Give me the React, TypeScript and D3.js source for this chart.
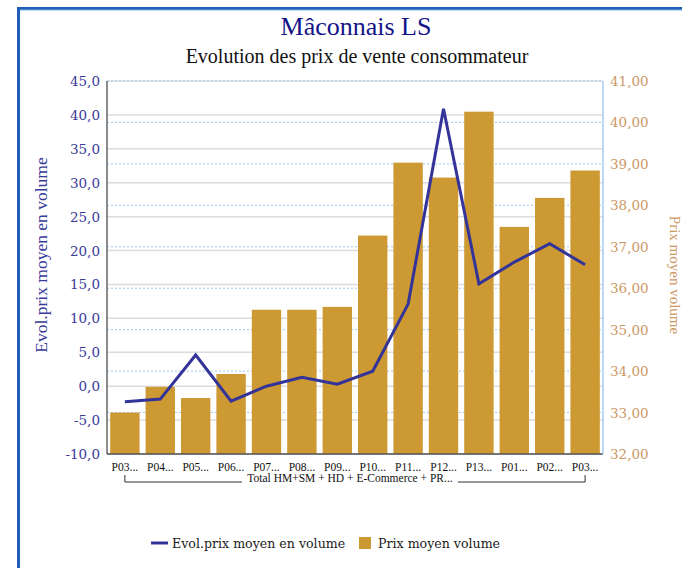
import React from "react";
import * as d3 from "d3";

const categories = ["P03...", "P04...", "P05...", "P06...", "P07...", "P08...", "P09...", "P10...", "P11...", "P12...", "P13...", "P01...", "P02...", "P03..."];
const prixMoyen = [33.0, 33.62, 33.35, 33.93, 35.48, 35.48, 35.55, 37.27, 39.03, 38.67, 40.26, 37.48, 38.18, 38.84];
const evolPrix = [-2.3, -1.9, 4.6, -2.2, 0.0, 1.3, 0.3, 2.2, 12.1, 40.9, 15.1, 18.3, 21.0, 17.9];
const leftTicks = [-10, -5, 0, 5, 10, 15, 20, 25, 30, 35, 40, 45];
const rightTicks = [32, 33, 34, 35, 36, 37, 38, 39, 40, 41];
const groupLabel = "Total HM+SM + HD + E-Commerce + PR...";

const fmt = (t: number, d: number) => t.toFixed(d).replace(".", ",");

export default function App() {
  const W = 682, H = 568;
  const m = { left: 107, right: 603, top: 81, bottom: 454 };
  const x = d3.scaleBand<number>().domain(d3.range(categories.length)).range([m.left, m.right]).paddingInner(0.17).paddingOuter(0.09);
  const yL = d3.scaleLinear().domain([-10, 45]).range([m.bottom, m.top]);
  const yR = d3.scaleLinear().domain([32, 41]).range([m.bottom, m.top]);
  const line = d3.line<number>().x((_, i) => x(i)! + x.bandwidth() / 2).y((d) => yL(d));
  const serif = { fontFamily: "DejaVu Serif, serif" };
  const times = { fontFamily: "Liberation Serif, Times New Roman, serif" };
  const c0 = x(0)! + x.bandwidth() / 2;
  const cN = x(categories.length - 1)! + x.bandwidth() / 2;
  const brY = 482;
  const textMid = 350;
  const textHalf = 100;
  return (
    <svg width={W} height={H} style={{ position: "absolute", left: 0, top: 0, background: "#fff" }}>
      <rect x={18.5} y={8.5} width={W} height={H} fill="none" stroke="#1f5fb5" strokeWidth={3} />
      <line x1={20} y1={10} x2={W} y2={10} stroke="#7fb0e8" strokeWidth={1} />
      <text x={356} y={35} textAnchor="middle" style={times} fontSize={26} fill="#14148a">Mâconnais LS</text>
      <text x={357} y={63} textAnchor="middle" style={times} fontSize={20} fill="#111">Evolution des prix de vente consommateur</text>
      {leftTicks.map((t) => (
        <line key={"gl" + t} x1={m.left} x2={m.right} y1={yL(t)} y2={yL(t)} stroke="#dcdcdc" strokeWidth={1.5} />
      ))}
      {rightTicks.map((t) => (
        <line key={"gr" + t} x1={m.left} x2={m.right} y1={yR(t)} y2={yR(t)} stroke="#9cc8f0" strokeWidth={1} strokeDasharray="2,2" />
      ))}
      {prixMoyen.map((v, i) => (
        <rect key={"b" + i} x={x(i)} y={yR(v)} width={x.bandwidth()} height={yR(32) - yR(v)} fill="#cc9933" />
      ))}
      <path d={line(evolPrix) || ""} fill="none" stroke="#333399" strokeWidth={3} strokeLinejoin="miter" />
      <line x1={m.left} x2={m.left} y1={m.top} y2={m.bottom} stroke="#666" strokeWidth={1.5} />
      <line x1={m.left} x2={m.right} y1={m.bottom} y2={m.bottom} stroke="#555" strokeWidth={1.5} />
      <line x1={m.right} x2={m.right} y1={m.top} y2={m.bottom} stroke="#a8cdf2" strokeWidth={1.5} />
      {leftTicks.map((t) => (
        <text key={"tl" + t} x={100} y={yL(t) + 5} textAnchor="end" style={serif} fontSize={13.5} fill="#3a3a9a">
          {fmt(t, 1)}
        </text>
      ))}
      {rightTicks.map((t) => (
        <text key={"tr" + t} x={610} y={yR(t) + 5} textAnchor="start" style={serif} fontSize={13.5} fill="#cc9966">
          {fmt(t, 2)}
        </text>
      ))}
      {categories.map((c, i) => (
        <text key={"c" + i} x={x(i)! + x.bandwidth() / 2} y={471} textAnchor="middle" style={times} fontSize={11.5} fill="#111">{c}</text>
      ))}
      <path d={`M${c0},${brY - 7}V${brY}H${textMid - textHalf - 8}`} fill="none" stroke="#333" strokeWidth={1} />
      <path d={`M${textMid + textHalf + 8},${brY}H${cN}V${brY - 7}`} fill="none" stroke="#333" strokeWidth={1} />
      <text x={textMid} y={482} textAnchor="middle" style={times} fontSize={11.5} fill="#111">{groupLabel}</text>
      <text transform={`translate(47,255) rotate(-90)`} textAnchor="middle" style={times} fontSize={17.5} fill="#3a3a9a">Evol.prix moyen en volume</text>
      <text transform={`translate(670,275) rotate(90)`} textAnchor="middle" style={times} fontSize={15} fill="#cc9966">Prix moyen volume</text>
      <line x1={151} x2={168} y1={543} y2={543} stroke="#333399" strokeWidth={3} />
      <text x={172} y={548} style={serif} fontSize={12.6} fill="#222">Evol.prix moyen en volume</text>
      <rect x={359} y={537} width={12} height={12} fill="#cc9933" />
      <text x={378} y={548} style={serif} fontSize={12.6} fill="#222">Prix moyen volume</text>
    </svg>
  );
}
